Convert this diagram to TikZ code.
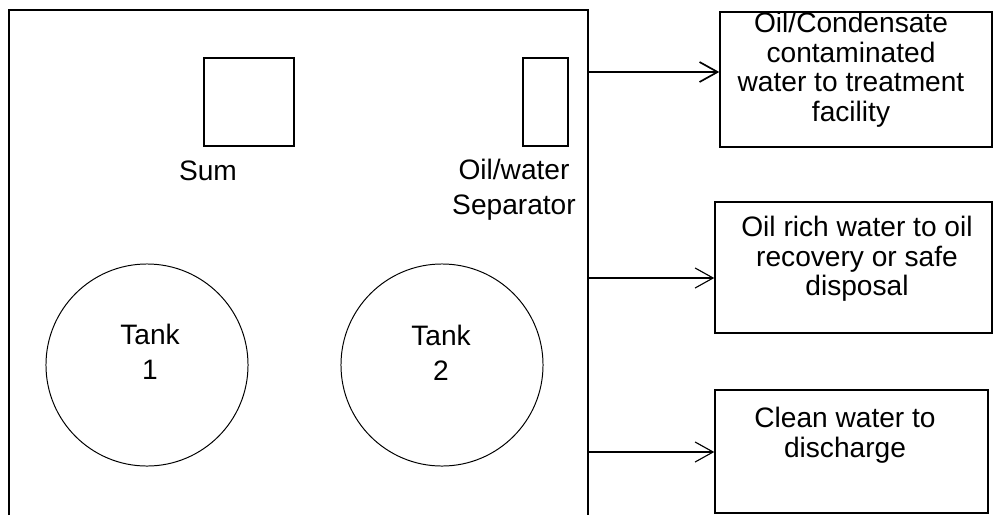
\documentclass[tikz,border=0pt]{standalone}
\usepackage{fontspec}
\setmainfont{Liberation Sans}
\usetikzlibrary{arrows.meta,positioning}

\begin{document}
\begin{tikzpicture}[
    x=0.025cm, y=-0.025cm,
    tank/.style={draw,circle,line width=0.7pt,minimum size=5.05cm,inner sep=0pt},
    unit/.style={draw,line width=0.8pt,minimum height=2.2cm,inner sep=0pt},
    outbox/.style={draw,line width=1pt,inner sep=0pt},
    txt/.style={align=center,font=\fontsize{20}{21}\selectfont,inner sep=0pt},
    lbl/.style={align=center,font=\fontsize{20}{25}\selectfont,inner sep=0pt},
    arr/.style={-{Straight Barb[length=4.5mm,width=5mm]},line width=0.8pt}
  ]
    \useasboundingbox (0,0) rectangle (994,515);
    \coordinate (frameSW) at (9,515);
    \coordinate (frameNW) at (9,10);
    \coordinate (frameNE) at (588,10);
    \coordinate (frameSE) at (588,515);
    \draw[line width=1.2pt] (frameSW) -- (frameNW) -- (frameNE) -- (frameSE);

    \node[unit,minimum width=2.25cm] (sum) at (249,102) {};
    \node[lbl] (sumlbl) at (208,171) {Sum};
    \node[unit,minimum width=1.125cm] (sep) at (545.5,102) {};
    \node[lbl] (seplbl) at (514,190) {Oil/water\\Separator};

    \node[tank] (tank1) at (147,365) {};
    \node[lbl] (tank1lbl) at (150,352) {Tank\\1};
    \node[tank] (tank2) at (442,365) {};
    \node[lbl] (tank2lbl) at (441,353) {Tank\\2};

    \node[outbox,minimum width=6.8cm,minimum height=3.375cm] (treat) at (856,79.5) {};
    \node[txt] (treatlbl) at (851,69.5) {Oil/Condensate\\contaminated\\water to treatment\\facility};
    \node[outbox,minimum width=6.925cm,minimum height=3.275cm] (recov) at (853.5,267.5) {};
    \node[txt] (recovlbl) at (857,259) {Oil rich water to oil\\recovery or safe\\disposal};
    \node[outbox,minimum width=6.825cm,minimum height=3.075cm] (clean) at (851.5,451.5) {};
    \node[txt] (cleanlbl) at (845,435) {Clean water to\\discharge};

    \coordinate (out1) at (588,72);
    \coordinate (out2) at (588,278);
    \coordinate (out3) at (588,452);
    \draw[arr,line width=1.2pt] (out1) -- (out1 -| treat.west);
    \draw[arr] (out2) -- (out2 -| recov.west);
    \draw[arr] (out3) -- (out3 -| clean.west);
  \end{tikzpicture}
\end{document}
